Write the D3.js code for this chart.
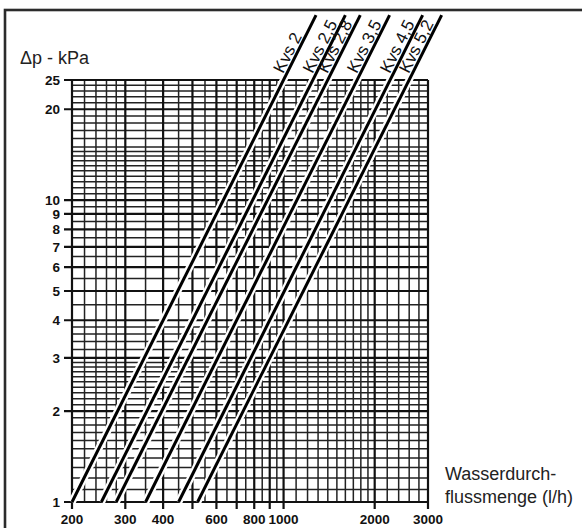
<!DOCTYPE html>
<html><head><meta charset="utf-8">
<script src="https://cdn.jsdelivr.net/npm/d3@7"></script>
<style>
html,body{margin:0;padding:0;background:#fff;}
svg{display:block;}
</style></head>
<body>
<svg id="chart" width="582" height="528"></svg>
<script>
// ---- data ----
const kvsValues = [2, 2.5, 2.8, 3.5, 4.5, 5.2];
const kvsLabels = ["Kvs 2", "Kvs 2,5", "Kvs 2,8", "Kvs 3,5", "Kvs 4,5", "Kvs 5,2"];
const flowAtStart = [200, 250, 280, 350, 450, 520];      // l/h at 1 kPa
const flowAtEnd = [1280, 1600, 1792, 2240, 2880, 3328];   // l/h at top end (~41 kPa)
const dpStart = 1, dpEnd = 41;
const xTicks = [200, 300, 400, 500, 600, 700, 800, 900, 1000, 2000, 3000];
const xTickLabels = [200, 300, 400, 600, 800, 1000, 2000, 3000];
const yTicks = [1, 2, 3, 4, 5, 6, 7, 8, 9, 10, 20, 25];
const xMinorGrid = [220, 240, 260, 280, 350, 450, 550, 650, 750, 850, 950,
  1100, 1200, 1300, 1400, 1500, 1600, 1700, 1800, 1900, 2200, 2400, 2600, 2800];
const yMinorGrid = [1.1, 1.2, 1.3, 1.4, 1.5, 1.6, 1.7, 1.8, 1.9,
  2.1, 2.2, 2.3, 2.4, 2.5, 2.6, 2.7, 2.8, 2.9,
  3.2, 3.4, 3.6, 3.8, 4.5, 5.5, 6.5, 7.5, 8.5, 9.5,
  10.5, 11, 11.5, 12, 12.5, 13, 13.5, 14, 14.5, 15, 16, 17, 18, 19,
  21, 22, 23, 24];
const yTitle = "Δp - kPa";
const xTitle = ["Wasserdurch-", "flussmenge (l/h)"];

// ---- chart ----
const svg = d3.select("#chart");
const x = d3.scaleLog().domain([200, 3000]).range([72, 428]);
const y = d3.scaleLog().domain([1, 25]).range([502, 80]);

// frame
svg.append("rect").attr("x", 5).attr("y", 10).attr("width", 620).attr("height", 600)
  .attr("fill", "none").attr("stroke", "#2b2b2b").attr("stroke-width", 2.6);

const grid = svg.append("g");
grid.selectAll("line.vmin").data(xMinorGrid).join("line")
  .attr("x1", d => x(d)).attr("x2", d => x(d)).attr("y1", y(25)).attr("y2", y(1))
  .attr("stroke", "#222").attr("stroke-width", 1.5);
grid.selectAll("line.hmin").data(yMinorGrid).join("line")
  .attr("y1", d => y(d)).attr("y2", d => y(d)).attr("x1", x(200)).attr("x2", x(3000))
  .attr("stroke", "#222").attr("stroke-width", 1.5);
grid.selectAll("line.vmaj").data(xTicks).join("line")
  .attr("x1", d => x(d)).attr("x2", d => x(d)).attr("y1", y(25)).attr("y2", y(1) + 7)
  .attr("stroke", "#111").attr("stroke-width", 2.2);
grid.selectAll("line.hmaj").data(yTicks).join("line")
  .attr("y1", d => y(d)).attr("y2", d => y(d)).attr("x1", x(200) - 8).attr("x2", x(3000))
  .attr("stroke", "#111").attr("stroke-width", 2.2);

// axis labels
const tickFont = "'Liberation Sans', Arial, sans-serif";
svg.append("g").selectAll("text").data(xTickLabels).join("text")
  .attr("x", d => x(d)).attr("y", 524).attr("text-anchor", "middle")
  .attr("font-family", tickFont).attr("font-size", 13.5).attr("font-weight", "bold")
  .attr("fill", "#111").text(d => d);
svg.append("g").selectAll("text").data(yTicks).join("text")
  .attr("x", 60).attr("y", d => y(d)).attr("dy", "0.36em").attr("text-anchor", "end")
  .attr("font-family", tickFont).attr("font-size", 13.5).attr("font-weight", "bold")
  .attr("fill", "#111").text(d => d);

svg.append("text").attr("x", 20).attr("y", 64)
  .attr("font-family", "'Liberation Sans', Arial, sans-serif").attr("font-size", 18)
  .attr("fill", "#222").text(yTitle);
svg.append("g").selectAll("text").data(xTitle).join("text")
  .attr("x", 445).attr("y", (d, i) => 480 + i * 23)
  .attr("font-family", "'Liberation Sans', Arial, sans-serif").attr("font-size", 18)
  .attr("fill", "#222").text(d => d);

// Kvs lines
const lineData = kvsValues.map((k, i) => ({
  k, label: kvsLabels[i],
  pts: [[flowAtStart[i], dpStart], [flowAtEnd[i], dpEnd]]
}));
const line = d3.line().x(d => x(d[0])).y(d => y(d[1]));
const lg = svg.append("g");
lg.selectAll("path.halo").data(lineData).join("path")
  .attr("d", d => line(d.pts)).attr("fill", "none")
  .attr("stroke", "#fff").attr("stroke-width", 7.5);
lg.selectAll("path.ln").data(lineData).join("path")
  .attr("d", d => line(d.pts)).attr("fill", "none")
  .attr("stroke", "#000").attr("stroke-width", 3);

// labels along lines
lg.selectAll("text").data(lineData).join("text")
  .attr("transform", d => {
    const x0 = x(d.pts[0][0]), y0 = y(d.pts[0][1]);
    const x1 = x(d.pts[1][0]), y1 = y(d.pts[1][1]);
    const a = Math.atan2(y1 - y0, x1 - x0);
    const t = (y(25) - y0) / (y1 - y0);
    const px = x0 + t * (x1 - x0), py = y(25);
    const ux = Math.sin(a), uy = -Math.cos(a);
    const dx = Math.cos(a), dy = Math.sin(a);
    const bx = px + ux * 3 + dx * 5, by = py + uy * 3 + dy * 5;
    return `translate(${bx},${by}) rotate(${a * 180 / Math.PI})`;
  })
  .attr("font-family", "'Liberation Sans', Arial, sans-serif").attr("font-size", 17)
  .attr("fill", "#111").text(d => d.label);
</script>
</body></html>
